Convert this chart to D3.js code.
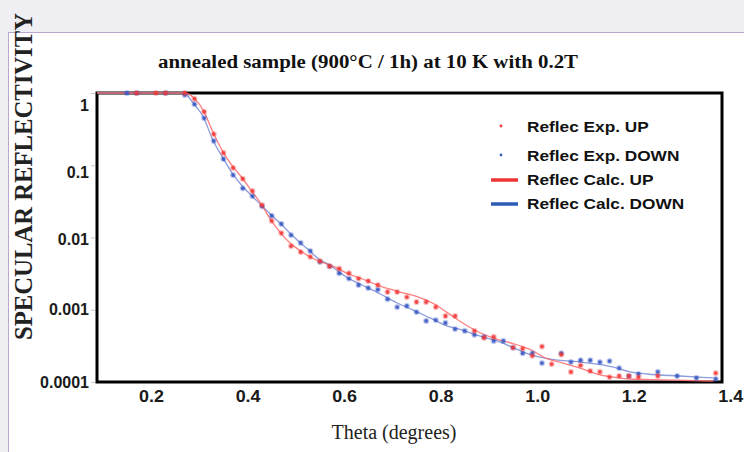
<!DOCTYPE html>
<html>
<head>
<meta charset="utf-8">
<script src="https://cdn.jsdelivr.net/npm/d3@7"></script>
<style>
  html, body { margin: 0; padding: 0; background: #f0eff4; }
  svg { display: block; }
</style>
</head>
<body>
<svg id="chart" width="744" height="452"></svg>
<script>
// ---------- data ----------
const chartTitle = "annealed sample (900°C / 1h) at 10 K with 0.2T";
const xTitle = "Theta (degrees)";
const yTitle = "SPECULAR REFLECTIVITY";

const xTickValues = [0.2, 0.4, 0.6, 0.8, 1.0, 1.2, 1.4];
const xTickLabels = ["0.2", "0.4", "0.6", "0.8", "1.0", "1.2", "1.4"];
const yTickValues = [1, 0.1, 0.01, 0.001, 0.0001];
const yTickLabels = ["1", "0.1", "0.01", "0.001", "0.0001"];

const seriesNames = ["Reflec Exp. UP", "Reflec Exp. DOWN", "Reflec Calc. UP", "Reflec Calc. DOWN"];

// Experimental UP (red points)
const expUpTheta = [0.17, 0.21, 0.23, 0.27, 0.29, 0.31, 0.33, 0.35, 0.37, 0.39, 0.41, 0.43, 0.45, 0.47, 0.49,
  0.51, 0.53, 0.55, 0.57, 0.59, 0.61, 0.63, 0.65, 0.67, 0.69, 0.71, 0.73, 0.75, 0.77, 0.79, 0.81, 0.83,
  0.87, 0.89, 0.91, 0.95, 0.97, 0.99, 1.01, 1.03, 1.05, 1.07, 1.09, 1.11, 1.13, 1.15, 1.17, 1.19, 1.21, 1.25, 1.37];
const expUpR = [1, 1, 1, 1, 0.83, 0.55, 0.27, 0.148, 0.092, 0.065, 0.044, 0.028, 0.017, 0.0115, 0.0076,
  0.0063, 0.0054, 0.0047, 0.0040, 0.0037, 0.0032, 0.0027, 0.0025, 0.0022, 0.00176, 0.00176, 0.0015, 0.00128, 0.00128, 0.00109, 0.00082, 0.00082,
  0.00051, 0.00041, 0.00042, 0.00030, 0.00029, 0.00023, 0.00031, 0.000177, 0.00024, 0.000138, 0.00017, 0.000142, 0.000138, 0.000117, 0.000121, 0.000121, 0.000117, 0.000121, 0.000133];

// Experimental DOWN (blue points)
const expDownTheta = [0.15, 0.17, 0.23, 0.27, 0.29, 0.31, 0.33, 0.35, 0.37, 0.39, 0.41, 0.43, 0.45, 0.47, 0.49,
  0.51, 0.53, 0.55, 0.57, 0.59, 0.61, 0.63, 0.65, 0.67, 0.69, 0.71, 0.73, 0.75, 0.77, 0.79, 0.81, 0.83, 0.85,
  0.87, 0.89, 0.91, 0.93, 0.95, 0.97, 0.99, 1.01, 1.05, 1.07, 1.09, 1.11, 1.13, 1.15, 1.17, 1.19, 1.21, 1.25, 1.29, 1.33, 1.37];
const expDownR = [1, 1, 1, 0.94, 0.70, 0.45, 0.217, 0.122, 0.073, 0.048, 0.0375, 0.027, 0.020, 0.0154, 0.0108,
  0.0084, 0.0065, 0.0046, 0.0040, 0.0032, 0.0027, 0.0022, 0.0020, 0.0019, 0.0014, 0.00109, 0.00113, 0.00093, 0.00070, 0.00072, 0.00066, 0.00054, 0.00051,
  0.00045, 0.00042, 0.00037, 0.00037, 0.00030, 0.00025, 0.00025, 0.000183, 0.00025, 0.000189, 0.00020, 0.00020, 0.000189, 0.000195, 0.000156, 0.000121, 0.000129, 0.000138, 0.000121, 0.000114, 0.000110];

// Calculated UP (red line)
const calcUpTheta = [0.088, 0.27, 0.291, 0.308, 0.328, 0.349, 0.370, 0.389, 0.407, 0.428, 0.447, 0.467, 0.488, 0.507, 0.527,
  0.548, 0.569, 0.588, 0.606, 0.633, 0.675, 0.716, 0.758, 0.789, 0.813, 0.834, 0.855, 0.882, 0.917, 0.950, 0.986,
  1.021, 1.054, 1.089, 1.124, 1.158, 1.193, 1.261, 1.365];
const calcUpR = [1, 1, 0.83, 0.58, 0.29, 0.153, 0.095, 0.0666, 0.0454, 0.0291, 0.0180, 0.0119, 0.0084, 0.0067, 0.0055,
  0.0047, 0.0042, 0.0037, 0.0032, 0.00275, 0.00213, 0.00176, 0.00146, 0.00118, 0.00092, 0.00074, 0.00060, 0.00048, 0.00039, 0.00034, 0.00028,
  0.00021, 0.000183, 0.000156, 0.000129, 0.000117, 0.000110, 0.000107, 0.000103];

// Calculated DOWN (blue line)
const calcDownTheta = [0.088, 0.268, 0.287, 0.308, 0.328, 0.349, 0.368, 0.389, 0.407, 0.428, 0.447, 0.467, 0.488, 0.507, 0.527,
  0.548, 0.569, 0.588, 0.606, 0.633, 0.675, 0.710, 0.743, 0.778, 0.813, 0.847, 0.882, 0.917, 0.950, 0.986,
  1.021, 1.089, 1.158, 1.193, 1.228, 1.296, 1.365];
const calcDownR = [1, 1, 0.73, 0.47, 0.224, 0.126, 0.078, 0.0516, 0.0387, 0.0282, 0.0211, 0.0159, 0.0115, 0.0087, 0.0067,
  0.0050, 0.0042, 0.0034, 0.0028, 0.00227, 0.00165, 0.00124, 0.00099, 0.00077, 0.00060, 0.00052, 0.00043, 0.00037, 0.00030, 0.00024,
  0.00021, 0.000189, 0.000161, 0.000138, 0.000129, 0.000121, 0.000114];

// ---------- drawing ----------
const svg = d3.select("#chart");
const W = 744, H = 452;
const plot = { left: 97, right: 722, top: 93, bottom: 382 };

const RED = "#f23a3a", BLUE = "#3a5bc4";
const RED_LINE = "#ff6a6a", BLUE_LINE = "#8091d8";

// panel
svg.append("rect").attr("x", 8.5).attr("y", 32.5).attr("width", W).attr("height", H)
  .attr("fill", "#ffffff").attr("stroke", "#b9a8cb").attr("stroke-width", 1);

const x = d3.scaleLinear().domain([0.088, 1.383]).range([plot.left, plot.right]);
const y = d3.scaleLog().domain([0.0001, 1]).range([plot.bottom, plot.top]);

// y axis ticks + labels
const yAxis = d3.axisLeft(y).tickValues(yTickValues)
  .tickFormat((d, i) => yTickLabels[i]).tickSizeInner(4).tickSizeOuter(0).tickPadding(2);
const gy = svg.append("g").attr("transform", `translate(${plot.left - 2},0)`).call(yAxis);
gy.select(".domain").remove();
gy.selectAll(".tick line").attr("stroke", "#c8c8c8");
gy.selectAll(".tick text")
  .attr("font-family", "'Liberation Sans', Arial, sans-serif")
  .attr("font-weight", "bold").attr("font-size", 16).attr("fill", "#1a1a1a")
  .attr("dy", d => d === 1 ? "1.1em" : d === 0.1 ? "0.75em" : d === 0.01 ? "0.45em" : "0.32em");

// x axis labels
const xAxis = d3.axisBottom(x).tickValues(xTickValues)
  .tickFormat((d, i) => xTickLabels[i]).tickSize(0).tickPadding(9);
const gx = svg.append("g").attr("transform", `translate(0,${plot.bottom})`).call(xAxis);
gx.select(".domain").remove();
gx.selectAll(".tick text")
  .attr("font-family", "'Liberation Sans', Arial, sans-serif")
  .attr("font-weight", "bold").attr("font-size", 16).attr("fill", "#1a1a1a")
  .attr("transform", "scale(1.12,1)");

// frame
svg.append("rect")
  .attr("x", plot.left).attr("y", plot.top)
  .attr("width", plot.right - plot.left).attr("height", plot.bottom - plot.top)
  .attr("fill", "none").attr("stroke", "#000").attr("stroke-width", 3);

// lines
const line = d3.line().x(d => x(d[0])).y(d => y(d[1])).curve(d3.curveMonotoneX);
const calcUp = calcUpTheta.map((t, i) => [t, calcUpR[i]]);
const calcDown = calcDownTheta.map((t, i) => [t, calcDownR[i]]);
svg.append("path").datum(calcDown).attr("d", line)
  .attr("fill", "none").attr("stroke", BLUE_LINE).attr("stroke-width", 1.3).attr("stroke-opacity", 0.9);
svg.append("path").datum(calcUp).attr("d", line)
  .attr("fill", "none").attr("stroke", RED_LINE).attr("stroke-width", 1.3).attr("stroke-opacity", 0.85);

// points
function drawPoints(thetas, rs, color) {
  svg.append("g").selectAll("circle")
    .data(thetas.map((t, i) => [t, rs[i]]))
    .join("circle")
    .attr("cx", d => x(d[0])).attr("cy", d => y(d[1]))
    .attr("r", 1.9)
    .attr("fill", color).attr("fill-opacity", 0.9)
    .attr("stroke", color).attr("stroke-opacity", 0.3).attr("stroke-width", 2.4);
}
drawPoints(expDownTheta, expDownR, BLUE);
drawPoints(expUpTheta, expUpR, RED);

// legend
const lg = svg.append("g").attr("font-family", "'Liberation Sans', Arial, sans-serif")
  .attr("font-weight", "bold").attr("font-size", 15).attr("fill", "#111");
const legendRows = [
  { name: seriesNames[0], type: "dot", color: RED, cy: 126 },
  { name: seriesNames[1], type: "dot", color: BLUE, cy: 155 },
  { name: seriesNames[2], type: "line", color: "#ee3434", cy: 179 },
  { name: seriesNames[3], type: "line", color: "#2c5db6", cy: 203 }
];
legendRows.forEach(r => {
  if (r.type === "dot") {
    lg.append("circle").attr("cx", 501).attr("cy", r.cy).attr("r", 1.4).attr("fill", r.color);
  } else {
    lg.append("line").attr("x1", 491).attr("x2", 518).attr("y1", r.cy + 1).attr("y2", r.cy + 1)
      .attr("stroke", r.color).attr("stroke-width", 3.5);
  }
  lg.append("text").attr("transform", `translate(527,${r.cy + 5.5}) scale(1.15,1)`).text(r.name);
});

// title
svg.append("text").attr("x", 368).attr("y", 68).attr("text-anchor", "middle")
  .attr("font-family", "'Liberation Serif', 'Times New Roman', serif")
  .attr("font-weight", "bold").attr("font-size", 18).attr("fill", "#111")
  .attr("textLength", 420).attr("lengthAdjust", "spacingAndGlyphs")
  .text(chartTitle);

// x title
svg.append("text").attr("x", 394).attr("y", 439).attr("text-anchor", "middle")
  .attr("font-family", "'Liberation Serif', 'Times New Roman', serif")
  .attr("font-size", 20).attr("fill", "#222")
  .text(xTitle);

// y title
svg.append("text").attr("transform", "translate(32,340) rotate(-90)")
  .attr("font-family", "'Liberation Serif', 'Times New Roman', serif")
  .attr("font-weight", "bold").attr("font-size", 25).attr("fill", "#222")
  .attr("textLength", 327).attr("lengthAdjust", "spacingAndGlyphs")
  .text(yTitle);
</script>
</body>
</html>
